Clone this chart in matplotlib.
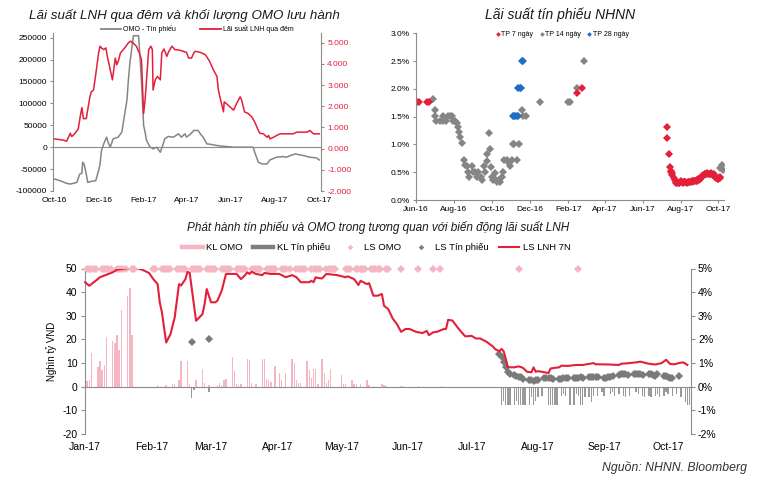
import numpy as np
import pandas as pd
import matplotlib
matplotlib.use('Agg')
import matplotlib.pyplot as plt
from matplotlib.lines import Line2D
from matplotlib.ticker import FuncFormatter, MultipleLocator, FixedLocator

plt.rcParams['font.family'] = ['Liberation Sans', 'DejaVu Sans']
plt.rcParams['axes.unicode_minus'] = False

RED = '#E41F3A'
GRAY = '#858585'
PINK = '#F5B5C3'
BLUE = '#1C6FC2'
SPINE = '#8C8C8C'

# ---------------- Panel 1 (days counted from 2016-10-01) ----------------
p1_omo_days = [0, 8, 17, 22, 26, 31, 35, 38, 39, 41, 44, 46, 51, 57, 61, 63, 65, 68, 72, 74, 77, 81,
               88, 93, 97, 100, 102, 104, 107, 109, 116, 118, 120, 123, 125, 127, 132, 136, 141, 146,
               150, 152, 157, 164, 171, 175, 180, 182, 187, 192, 198, 201, 205, 210, 217, 224, 237,
               247, 274, 276, 281, 286, 293, 297, 306, 315, 320, 325, 332, 336, 343, 352, 361, 365]
p1_omo_vals = [-72600, -76500, -82600, -84100, -82600, -80300, -61200, -59600, -34400, -38200,
               -61200, -80300, -78000, -76500, -53500, -38200, -7600, 7600, 22900, 11500, 0, 19100,
               22900, 34400, 76500, 107000, 152900, 191100, 229400, 254600, 254600, 206400, 152900,
               49700, 34400, 15300, 0, -3800, 0, -11500, 7600, 19100, 24500, 22900, 30600, 22900,
               30600, 22900, 29100, 38200, 38200, 30600, 22900, 7600, 6100, 3800, 1500, 0, 0,
               -11500, -34400, -38200, -38200, -29100, -22900, -21400, -22900, -19100, -15300,
               -16800, -19100, -22900, -24500, -29100]
p1_rate_days = [0, 12, 17, 22, 24, 28, 33, 36, 38, 40, 44, 49, 51, 54, 57, 61, 63, 65, 68, 71, 73,
                77, 80, 84, 86, 88, 91, 97, 102, 105, 109, 113, 118, 120, 123, 125, 127, 130, 133,
                135, 136, 139, 142, 146, 148, 151, 155, 157, 162, 166, 173, 182, 185, 189, 192, 194,
                201, 208, 214, 219, 224, 226, 228, 233, 234, 237, 242, 247, 251, 256, 258, 262, 267,
                272, 276, 281, 283, 288, 293, 295, 297, 302, 306, 311, 315, 320, 329, 334, 338, 348,
                352, 357, 365]
p1_rate_vals = [0.46, 0.41, 0.35, 0.73, 0.57, 0.70, 0.94, 1.58, 1.94, 1.42, 1.42, 2.45, 2.69, 2.77,
                3.49, 4.52, 4.84, 4.76, 4.68, 4.76, 4.36, 3.73, 3.25, 4.28, 3.96, 4.12, 4.52, 4.76,
                5.00, 5.08, 4.97, 4.84, 4.44, 4.20, 1.66, 2.29, 3.25, 4.68, 4.84, 4.68, 2.77, 3.25,
                3.41, 3.25, 4.52, 4.71, 4.36, 4.55, 4.84, 4.68, 4.65, 4.55, 4.28, 4.28, 4.52, 4.60,
                4.55, 4.44, 4.12, 3.73, 3.41, 2.77, 2.45, 1.74, 2.21, 2.13, 1.97, 1.82, 2.13, 2.45,
                2.29, 1.74, 1.66, 1.50, 1.26, 0.86, 0.73, 0.70, 0.54, 0.62, 0.46, 0.54, 0.62, 0.70,
                0.70, 0.70, 0.70, 0.78, 0.78, 0.78, 0.86, 0.70, 0.70]
p1_tick_days = [0, 61, 123, 182, 243, 304, 365]
p1_tick_labels = ['Oct-16', 'Dec-16', 'Feb-17', 'Apr-17', 'Jun-17', 'Aug-17', 'Oct-17']

# ---------------- Panel 2 (days counted from 2016-06-01) ----------------
tp7_days = [1, 5, 17, 21, 260, 268,
            404, 405, 407, 409, 410, 411, 412, 413, 416, 417, 418, 419, 420, 423, 424, 425, 426,
            427, 430, 431, 432, 433, 434, 437, 438, 439, 440, 441, 444, 445, 446, 447, 448, 451,
            452, 453, 454, 455, 458, 459, 460, 461, 462, 465, 466, 467, 468, 469, 472, 473, 474,
            475, 476, 479, 480, 481, 482, 483, 486, 487, 488, 489, 490]
tp7_vals = [1.77, 1.77, 1.77, 1.77, 1.92, 2.01,
            1.31, 1.12, 0.82, 0.60, 0.52, 0.50, 0.48, 0.45, 0.40, 0.36, 0.33, 0.31, 0.30, 0.31,
            0.30, 0.32, 0.34, 0.33, 0.31, 0.32, 0.32, 0.33, 0.32, 0.31, 0.32, 0.33, 0.32, 0.33,
            0.34, 0.33, 0.35, 0.35, 0.34, 0.35, 0.36, 0.35, 0.37, 0.36, 0.38, 0.40, 0.42, 0.44,
            0.45, 0.46, 0.47, 0.46, 0.47, 0.48, 0.47, 0.46, 0.47, 0.48, 0.46, 0.45, 0.47, 0.44,
            0.42, 0.40, 0.38, 0.37, 0.40, 0.42, 0.39]
tp14_days = [28, 30, 31, 33, 38, 43, 44, 48, 52, 55, 58, 60, 63, 66, 67, 69, 71, 74, 77, 79, 82,
             84, 85, 90, 92, 95, 98, 100, 104, 107, 109, 111, 114, 115, 117, 119, 120, 122, 124,
             126, 127, 130, 133, 135, 138, 140, 142, 146, 149, 152, 154, 156, 158, 162, 166, 170,
             173, 177, 200, 245, 248, 260, 270, 490, 492, 494]
tp14_vals = [1.81, 1.62, 1.51, 1.43, 1.43, 1.43, 1.51, 1.43, 1.51, 1.51, 1.51, 1.43, 1.43, 1.38,
             1.32, 1.22, 1.13, 1.02, 0.72, 0.63, 0.62, 0.51, 0.42, 0.62, 0.51, 0.51, 0.42, 0.51,
             0.42, 0.36, 0.62, 0.51, 0.70, 0.83, 1.21, 0.92, 0.60, 0.42, 0.36, 0.39, 0.48, 0.33,
             0.36, 0.33, 0.42, 0.50, 0.72, 0.72, 0.66, 0.62, 0.72, 1.01, 1.01, 0.72, 1.01, 1.62,
             1.51, 1.51, 1.77, 1.77, 1.77, 2.01, 2.51, 0.57, 0.63, 0.54]
tp28_days = [156, 158, 160, 162, 164, 165, 167, 169, 171, 172]
tp28_vals = [1.51, 1.51, 1.51, 1.51, 1.51, 2.01, 2.01, 2.01, 2.51, 2.51]
p2_tick_days = [0, 61, 122, 183, 245, 304, 365, 426, 487]
p2_tick_labels = ['Jun-16', 'Aug-16', 'Oct-16', 'Dec-16', 'Feb-17', 'Apr-17', 'Jun-17',
                  'Aug-17', 'Oct-17']

# ---------------- Panel 3 (days counted from 2017-01-01) ----------------
kl_omo_days = [1, 2, 3, 6, 7, 8, 9, 10, 13, 14, 15, 16, 17, 20, 21, 22,
               34, 38, 41, 42, 44, 45, 48, 49, 52, 55, 56, 58, 62, 63, 64, 65, 66, 69, 70, 71, 72,
               73, 76, 77, 78, 80, 83, 84, 85, 86, 87, 89, 91, 92, 94, 97, 98, 99, 100, 101, 104,
               105, 106, 107, 108, 109, 111, 112, 113, 114, 115, 120, 121, 122, 125, 126, 127, 129,
               132, 133, 135, 139, 140, 141, 148, 149, 156, 167]
kl_omo_vals = [2.4, 2.8, 14.3, 8.4, 10.8, 6.9, 9.0, 21.0, 19.5, 18.6, 21.7, 15.5, 32.6, 38.5, 41.6,
               21.7,
               0.6, 0.6, 1.0, 1.0, 2.8, 10.8, 11.0, 1.0, 2.8, 7.7, 1.4, 0.6, 0.6, 1.4, 0.6, 2.8, 3.1,
               12.4, 6.5, 1.0, 0.6, 1.0, 11.8, 11.1, 1.4, 1.0, 11.8, 11.8, 3.1, 2.8, 2.0, 8.7, 5.6,
               2.8, 5.6, 11.8, 10.1, 2.8, 1.7, 1.7, 11.0, 7.0, 3.8, 7.6, 7.6, 1.0, 11.8, 5.6, 1.7,
               2.8, 7.6, 4.8, 1.0, 1.0, 2.8, 1.0, 1.0, 1.0, 2.8, 0.6, 0.3, 1.0, 0.6, 0.3, 0.5, 0.4,
               0.4, 0.3]
kl_tp_days = [50, 51, 58,
              195, 196, 197, 198, 199, 201, 202, 203, 204, 205, 206, 208, 209, 210, 211, 212, 214,
              217, 218, 219, 220, 221, 223, 224, 225, 227, 229, 230, 231, 232, 233, 234, 236, 237,
              238, 240, 242, 243, 246, 247, 248, 250, 252, 253, 255, 258, 259, 261, 262, 264, 265,
              267, 268, 269, 271, 272, 273, 275, 277, 279, 281, 282, 283]
kl_tp_vals = [-4.6, -1.5, -2.2,
              -7.6, -5.9, -7.6, -7.6, -7.6, -7.6, -5.9, -7.6, -7.6, -7.6, -7.6, -7.6, -4.5, -7.6,
              -5.9, -4.5, -3.8, -7.6, -7.6, -7.6, -7.6, -7.6, -3.8, -3.1, -3.8, -7.6, -7.6, -3.1,
              -3.8, -7.6, -7.6, -4.5, -4.5, -6.6, -3.8, -3.8, -2.4, -3.8, -3.1, -2.4, -3.8, -3.1,
              -3.8, -4.5, -3.8, -2.4, -3.1, -3.8, -4.5, -3.8, -4.5, -3.8, -3.1, -4.5, -3.8, -2.4,
              -3.1, -3.8, -3.1, -4.5, -6.6, -7.6, -7.6]
ls_omo_periods = [('2017-01-02', '2017-01-24'), ('2017-02-02', '2017-05-23')]
ls_omo_holidays = ['2017-04-06', '2017-05-01', '2017-05-02']
ls_omo_extra_days = [148, 156, 163, 166, 203, 231]
ls_omo_rate = 5.0
ls_tp_days = [50, 58, 194, 195, 196, 197, 198, 199,
              201, 202, 203, 204, 205, 208, 209, 210, 211, 212, 215, 216, 217, 218, 219,
              222, 223, 224, 225, 226, 229, 230, 231, 232, 233, 236, 237, 238, 239, 240,
              243, 244, 245, 246, 247, 250, 251, 252, 253, 254, 257, 258, 259, 260, 261,
              264, 265, 266, 267, 268, 271, 272, 273, 274, 275, 278]
ls_tp_vals = [1.90, 2.01, 1.38, 1.24, 1.03, 0.82, 0.61, 0.54,
              0.49, 0.46, 0.42, 0.39, 0.34, 0.30, 0.27, 0.25, 0.27, 0.30, 0.35, 0.37, 0.35, 0.35,
              0.34, 0.32, 0.33, 0.35, 0.35, 0.35, 0.35, 0.36, 0.38, 0.39, 0.37, 0.39, 0.39, 0.39,
              0.39, 0.39, 0.35, 0.37, 0.39, 0.41, 0.44, 0.49, 0.52, 0.54, 0.52, 0.49, 0.54, 0.54,
              0.53, 0.52, 0.49, 0.52, 0.54, 0.49, 0.46, 0.52, 0.46, 0.44, 0.41, 0.38, 0.35, 0.44]
lnh7_days = [0, 2, 5, 7, 9, 12, 13, 15, 19, 23, 27, 30, 32, 34, 35, 36, 38, 40, 42, 43, 44, 45, 47,
             48, 49, 52, 55, 56, 57, 59, 61, 62, 64, 66, 69, 71, 73, 75, 76, 77, 78, 80, 83, 84, 87,
             91, 94, 97, 99, 101, 105, 106, 107, 108, 109, 111, 113, 118, 122, 123, 126, 128, 129,
             132, 133, 135, 137, 139, 140, 142, 144, 146, 148, 150, 152, 155, 158, 160, 161, 163,
             165, 168, 169, 170, 172, 175, 178, 181, 183, 185, 188, 191, 192, 194, 195, 196, 197,
             198, 201, 203, 205, 207, 209, 210, 211, 212, 215, 217, 218, 220, 222, 223, 226, 230,
             233, 237, 238, 239, 245, 250, 251, 255, 258, 260, 264, 267, 270, 272, 274, 276, 278,
             280, 281, 282]
lnh7_vals = [4.42, 4.27, 4.48, 4.63, 4.70, 4.80, 4.84, 4.95, 5.00, 5.05, 4.94, 4.81, 4.55, 4.34,
             3.57, 3.15, 1.87, 2.22, 2.93, 3.64, 4.34, 4.28, 4.55, 4.86, 4.82, 2.79, 3.07, 3.50,
             4.13, 3.57, 3.57, 3.64, 4.06, 4.77, 4.77, 4.77, 4.55, 4.72, 4.84, 4.77, 4.86, 4.77,
             4.72, 4.81, 4.77, 4.77, 4.63, 4.72, 4.63, 4.42, 4.42, 4.48, 4.42, 4.63, 4.60, 4.58,
             4.77, 4.72, 4.63, 4.67, 4.55, 4.30, 4.48, 4.34, 4.38, 3.85, 3.85, 3.92, 3.42, 3.28,
             2.89, 2.65, 2.32, 2.44, 2.44, 2.32, 2.27, 2.36, 2.18, 2.30, 2.33, 2.44, 2.44, 2.83,
             2.80, 2.44, 2.13, 2.15, 2.04, 2.04, 1.90, 1.70, 1.59, 1.50, 1.60, 1.50, 1.17, 0.82,
             0.82, 0.86, 0.80, 0.63, 0.61, 0.82, 0.63, 0.66, 0.61, 0.58, 0.77, 0.80, 0.82, 0.89,
             0.88, 0.92, 0.92, 0.98, 1.00, 0.95, 0.94, 0.92, 0.97, 1.00, 1.03, 1.06, 0.97, 0.94,
             1.00, 1.14, 0.96, 0.95, 1.00, 1.03, 0.98, 0.92]
p3_tick_days = [0, 31, 59, 90, 120, 151, 181, 212, 243, 273]
p3_tick_labels = ['Jan-17', 'Feb-17', 'Mar-17', 'Apr-17', 'May-17', 'Jun-17', 'Jul-17',
                  'Aug-17', 'Sep-17', 'Oct-17']

W, H = 758, 482
fig = plt.figure(figsize=(W / 100, H / 100), dpi=100)


def box(l, t, r, b):
    return [l / W, 1 - b / H, (r - l) / W, (b - t) / H]


def style_spines(ax, keep):
    for s in ['left', 'right', 'top', 'bottom']:
        ax.spines[s].set_visible(s in keep)
        ax.spines[s].set_color(SPINE)
        ax.spines[s].set_linewidth(0.8)


# ======== Panel 1 ========
ax1 = fig.add_axes(box(53.3, 33.3, 321, 191))
ax1.plot(p1_omo_days, p1_omo_vals, color=GRAY, lw=1.1)
ax1.axhline(0, color=SPINE, lw=0.8)
ax1.set_ylim(-100000, 260000)
ax1.set_xlim(-1.4, 367.3)
ax1.yaxis.set_major_locator(FixedLocator([-100000, -50000, 0, 50000, 100000, 150000, 200000, 250000]))
ax1.yaxis.set_major_formatter(FuncFormatter(lambda v, p: f'{v:.0f}'))
ax1.set_xticks(p1_tick_days)
ax1.set_xticklabels(p1_tick_labels)
ax1.tick_params(axis='x', length=0, pad=4, labelsize=6)
ax1.tick_params(axis='y', length=2.5, width=0.8, color=SPINE, labelsize=6, pad=2)
style_spines(ax1, ['left'])
ax1.patch.set_alpha(0)

ax1r = ax1.twinx()
ax1r.plot(p1_rate_days, p1_rate_vals, color=RED, lw=1.1)
ax1r.set_ylim(-2, 5.45)
ax1r.yaxis.set_major_locator(FixedLocator([-2, -1, 0, 1, 2, 3, 4, 5]))
ax1r.yaxis.set_major_formatter(FuncFormatter(lambda v, p: f'{v:.3f}'))
ax1r.tick_params(axis='y', length=2.5, width=0.8, color=SPINE, labelsize=6, pad=2,
                 labelcolor=RED)
style_spines(ax1r, ['right'])

fig.text(184 / W, 1 - 15 / H, 'Lãi suất LNH qua đêm và khối lượng OMO lưu hành',
         ha='center', va='center', fontsize=9.6, style='italic', color='#1a1a1a')
leg1 = [Line2D([], [], color=GRAY, lw=1.3), Line2D([], [], color=RED, lw=1.3)]
fig.legend(leg1, ['OMO - Tín phiếu', 'Lãi suất LNH qua đêm'], loc='center left',
           bbox_to_anchor=(101 / W, 1 - 29 / H), ncol=2, frameon=False, fontsize=5,
           handlelength=2.9, handletextpad=0.3, columnspacing=3.5, borderpad=0, borderaxespad=0)

# ======== Panel 2 ========
ax2 = fig.add_axes(box(416, 33.3, 724, 200))
mk = dict(marker='D', ms=3.8, ls='none', mew=0)
ax2.plot(tp14_days, tp14_vals, color=GRAY, **mk)
ax2.plot(tp28_days, tp28_vals, color=BLUE, **mk)
ax2.plot(tp7_days, tp7_vals, color=RED, **mk)
ax2.set_ylim(0, 3.0)
ax2.set_xlim(0, 496)
ax2.yaxis.set_major_locator(MultipleLocator(0.5))
ax2.yaxis.set_major_formatter(FuncFormatter(lambda v, p: f'{v:.1f}%'))
ax2.set_xticks(p2_tick_days)
ax2.set_xticklabels(p2_tick_labels)
ax2.tick_params(axis='x', length=2.5, width=0.8, color=SPINE, labelsize=6, pad=2)
ax2.tick_params(axis='y', length=2.5, width=0.8, color=SPINE, labelsize=6, pad=2)
style_spines(ax2, ['left', 'bottom'])
ax2.patch.set_alpha(0)
fig.text(560 / W, 1 - 15 / H, 'Lãi suất tín phiếu NHNN', ha='center', va='center',
         fontsize=10, style='italic', color='#1a1a1a')
leg2 = [Line2D([], [], color=c, marker='D', ms=2.4, ls='none', mew=0) for c in (RED, GRAY, BLUE)]
fig.legend(leg2, ['TP 7 ngày', 'TP 14 ngày', 'TP 28 ngày'], loc='center left',
           bbox_to_anchor=(495 / W, 1 - 35 / H), ncol=3, frameon=False, fontsize=5,
           handlelength=0.8, handletextpad=0.1, columnspacing=0.8, borderpad=0, borderaxespad=0)

# ======== Panel 3 ========
ax3 = fig.add_axes(box(84.5, 268.5, 691, 434))
ax3.bar(kl_omo_days, kl_omo_vals, width=0.65, color=PINK, lw=0)
ax3.bar(kl_tp_days, kl_tp_vals, width=0.65, color='#999999', lw=0)
ax3.axhline(0, color=SPINE, lw=0.8)
ax3.set_ylim(-20, 50)
ax3.set_xlim(-0.23, 283.7)
ax3.yaxis.set_major_locator(MultipleLocator(10))
ax3.set_xticks(p3_tick_days)
ax3.set_xticklabels(p3_tick_labels)
ax3.tick_params(axis='x', length=0, pad=6, labelsize=7.5)
ax3.tick_params(axis='y', length=3, width=0.8, color=SPINE, labelsize=7.5, pad=2)
ax3.set_ylabel('Nghìn tỷ VND', fontsize=7, labelpad=4)
style_spines(ax3, ['left'])
ax3.patch.set_alpha(0)

ax3r = ax3.twinx()
base = pd.Timestamp('2017-01-01')
omo_idx = pd.DatetimeIndex([])
for a, b in ls_omo_periods:
    omo_idx = omo_idx.append(pd.bdate_range(a, b, freq='C', holidays=ls_omo_holidays))
omo_marker_days = list((omo_idx - base).days) + ls_omo_extra_days
ax3r.plot(omo_marker_days, [ls_omo_rate] * len(omo_marker_days), color=PINK,
          marker='D', ms=4.0, ls='none', mew=0, clip_on=False)
ax3r.plot(ls_tp_days, ls_tp_vals, color='#7a7a7a', marker='D', ms=3.8, ls='none', mew=0)
ax3r.plot(lnh7_days, lnh7_vals, color=RED, lw=1.5)
ax3r.set_ylim(-2, 5)
ax3r.yaxis.set_major_locator(MultipleLocator(1))
ax3r.yaxis.set_major_formatter(FuncFormatter(lambda v, p: f'{v:.0f}%'))
ax3r.tick_params(axis='y', length=3, width=0.8, color=SPINE, labelsize=7.5, pad=2)
style_spines(ax3r, ['right'])

fig.text(378 / W, 1 - 227 / H,
         'Phát hành tín phiếu và OMO trong tương quan với biến động lãi suất LNH',
         ha='center', va='center', fontsize=8.5, style='italic', color='#1a1a1a')
leg3 = [Line2D([], [], color=PINK, lw=3.2),
        Line2D([], [], color='#7f7f7f', lw=3.2),
        Line2D([], [], color=PINK, marker='D', ms=2.8, ls='none', mew=0),
        Line2D([], [], color='#7f7f7f', marker='D', ms=2.8, ls='none', mew=0),
        Line2D([], [], color=RED, lw=1.5)]
fig.legend(leg3, ['KL OMO', 'KL Tín phiếu', 'LS OMO', 'LS Tín phiếu', 'LS LNH 7N'],
           loc='center left', bbox_to_anchor=(182 / W, 1 - 248 / H), ncol=5, frameon=False,
           fontsize=6.8, handlelength=2.2, handletextpad=0.35, columnspacing=1.05,
           borderpad=0, borderaxespad=0)

fig.text(747 / W, 1 - 468 / H, 'Nguồn: NHNN. Bloomberg', ha='right', va='center',
         fontsize=8.8, style='italic', color='#333333')

fig.savefig('out.png', dpi=100)
